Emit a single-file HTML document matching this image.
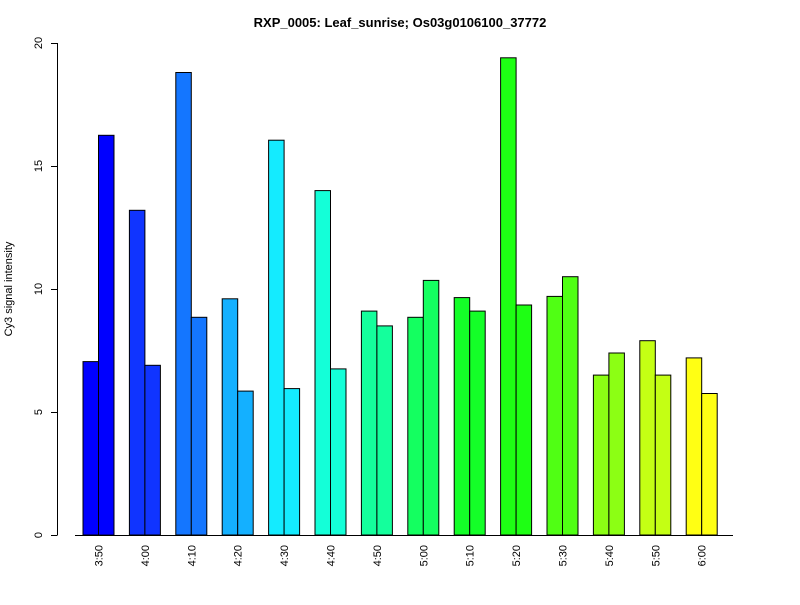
<!DOCTYPE html>
<html><head><meta charset="utf-8"><style>
body{margin:0;background:#fff}
svg text{font-family:"Liberation Sans",Arial,sans-serif;fill:#000}
</style></head><body>
<svg width="800" height="600" viewBox="0 0 800 600" xmlns="http://www.w3.org/2000/svg">
<text x="400" y="27" text-anchor="middle" font-size="13" font-weight="bold">RXP_0005: Leaf_sunrise; Os03g0106100_37772</text>
<text transform="translate(12,289) rotate(-90)" text-anchor="middle" font-size="11">Cy3 signal intensity</text>
<g stroke="#000" stroke-width="1" fill="none">
<line x1="57.5" y1="43" x2="57.5" y2="535"/>
<line x1="51" y1="535.5" x2="57.5" y2="535.5"/>
<line x1="51" y1="412.5" x2="57.5" y2="412.5"/>
<line x1="51" y1="289.5" x2="57.5" y2="289.5"/>
<line x1="51" y1="166.5" x2="57.5" y2="166.5"/>
<line x1="51" y1="43.5" x2="57.5" y2="43.5"/>
<line x1="75" y1="535.5" x2="733" y2="535.5"/>
</g>
<g font-size="11" text-anchor="middle">
<text transform="translate(42,535) rotate(-90)">0</text>
<text transform="translate(42,412) rotate(-90)">5</text>
<text transform="translate(42,289) rotate(-90)">10</text>
<text transform="translate(42,166) rotate(-90)">15</text>
<text transform="translate(42,43) rotate(-90)">20</text>
</g>
<g id="bars" stroke="#000" stroke-width="1"></g>
<g id="labs" font-size="11" text-anchor="end"></g>
</svg>
<script>
var d=[["3:50",7.05,16.25],["4:00",13.2,6.9],["4:10",18.8,8.85],["4:20",9.6,5.85],["4:30",16.05,5.95],["4:40",14.0,6.75],["4:50",9.1,8.5],["5:00",8.85,10.35],["5:10",9.65,9.1],["5:20",19.4,9.35],["5:30",9.7,10.5],["5:40",6.5,7.4],["5:50",7.9,6.5],["6:00",7.2,5.75]];
var cols=["#0000FF","#1034FF","#1476FF","#14B0FF","#14EBFF","#14FFD8","#14FF9C","#14FF60","#14FF28","#1EFF14","#50FF14","#8CFF14","#C4FF14","#FFFF14"];
var ns="http://www.w3.org/2000/svg",b=document.getElementById("bars"),l=document.getElementById("labs");
d.forEach(function(r,i){
 var x0=83+i*46.4,c=cols[i];
 [r[1],r[2]].forEach(function(v,j){
  var e=document.createElementNS(ns,"rect"),y=535-v*24.6;
  e.setAttribute("x",(x0+j*15.5).toFixed(1));e.setAttribute("y",y.toFixed(1));
  e.setAttribute("width","15.5");e.setAttribute("height",(535-y).toFixed(1));
  e.setAttribute("fill",c);b.appendChild(e);});
 var t=document.createElementNS(ns,"text");
 t.setAttribute("transform","translate("+(x0+19.5)+",545) rotate(-90)");
 t.textContent=r[0];l.appendChild(t);
});
</script>
</body></html>
